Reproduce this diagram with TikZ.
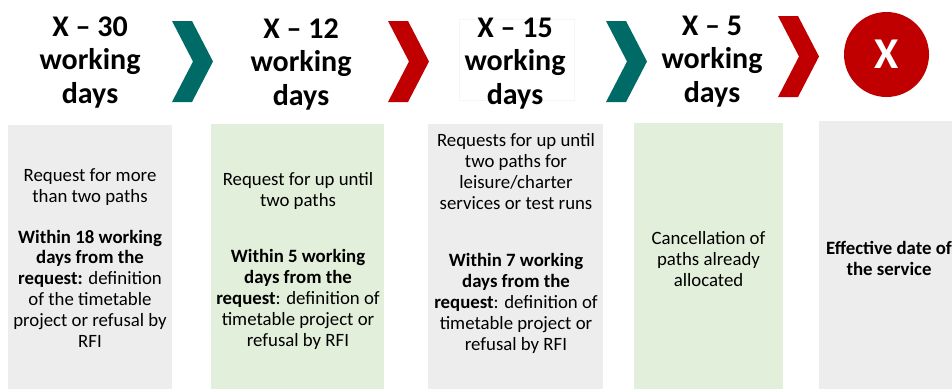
\documentclass[tikz,border=0pt]{standalone}
\usepackage{fontspec}
\setmainfont{Carlito}
\definecolor{boxgray}{HTML}{EDEDED}
\definecolor{boxgreen}{HTML}{E2EFDA}
\definecolor{chevteal}{HTML}{006B66}
\definecolor{chevred}{HTML}{C00000}
\tikzset{
  panel/.style={anchor=north west, inner sep=0pt, outer sep=0pt, draw=none},
  graypanel/.style={panel, fill=boxgray},
  greenpanel/.style={panel, fill=boxgreen},
  head/.style={font=\bfseries\fontsize{30}{33.5}\selectfont, align=center, anchor=base, inner sep=0pt},
  body/.style={font=\fontsize{18.8}{20.8}\selectfont, align=center, anchor=base, inner sep=0pt},
  endmark/.style={circle, fill=chevred, minimum size=85pt, inner sep=0pt, text=white, font=\bfseries\fontsize{44}{44}\selectfont},
}
\newcommand\mychevron[3]{\fill[#3] (#1,#2) -- ++(20,0) -- ++(21,40.5) -- ++(-21,40.5) -- ++(-20,0) -- ++(21,-40.5) -- cycle;}
\begin{document}
\begin{tikzpicture}[x=1pt,y=-1pt]
\useasboundingbox (0,0) rectangle (952,389);
% panels
\node[graypanel, minimum width=164pt, minimum height=264pt] (p1) at (8,125) {};
\node[greenpanel, minimum width=173pt, minimum height=265pt] (p2) at (211,124) {};
\node[graypanel, minimum width=175pt, minimum height=265pt] (p3) at (428,124) {};
\node[greenpanel, minimum width=149pt, minimum height=266pt] (p4) at (634,123) {};
\node[graypanel, minimum width=133pt, minimum height=268pt] (p5) at (819,121) {};
% faint frame
\draw[black!4, line width=0.5pt] (459,19) rectangle (574,100);
% chevrons
\mychevron{172}{21}{chevteal}
\mychevron{388}{21}{chevred}
\mychevron{606}{21}{chevteal}
\mychevron{778}{16}{chevred}
% end circle
\node[endmark] (xend) at (886.5,54.5) {X};
% headers
\node[head] (h1) at (90,103) {X – 30\\working\\days};
\node[head] (h2) at (301,105) {X – 12\\working\\days};
\node[head] (h3) at (515,104) {X – 15\\working\\days};
\node[head] (h4) at (712,102) {X – 5\\working\\days};
% body texts
\node[body] (t1a) at (90,202) {Request for more\\than two paths};
\node[body] (t1b) at (90,347) {\textbf{Within 18 working}\\\textbf{days from the}\\\textbf{request:} definition\\of the timetable\\project or refusal by\\RFI};
\node[body] (t2a) at (298,206) {Request for up until\\two paths};
\node[body] (t2b) at (298,346) {\textbf{Within 5 working}\\\textbf{days from the}\\\textbf{request}: definition of\\timetable project or\\refusal by RFI};
\node[body] (t3a) at (516,209) {Requests for up until\\two paths for\\leisure/charter\\services or test runs};
\node[body] (t3b) at (516,350) {\textbf{Within 7 working}\\\textbf{days from the}\\\textbf{request}: definition of\\timetable project or\\refusal by RFI};
\node[body] (t4) at (708.5,286) {Cancellation of\\paths already\\allocated};
\node[body, font=\bfseries\fontsize{18.8}{20.8}\selectfont] (t5) at (889,275) {Effective date of\\the service};
\end{tikzpicture}
\end{document}
